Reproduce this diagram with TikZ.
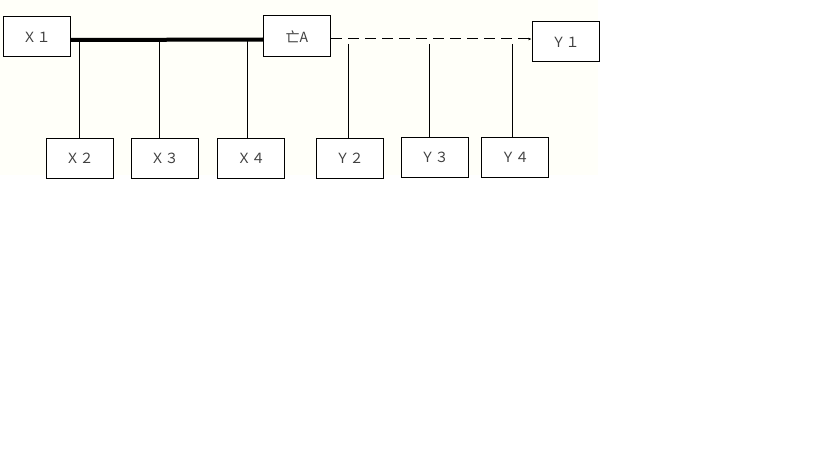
\documentclass[tikz,border=0pt]{standalone}
\usepackage{fontspec}
\newfontfamily\cjk{Noto Sans CJK SC}
\usetikzlibrary{arrows.meta}
\definecolor{paper}{RGB}{255,255,249}
\tikzset{
  box/.style={draw, line width=1pt, fill=white, minimum width=67pt, minimum height=40pt,
    inner sep=0pt, font=\cjk\fontsize{14}{16}\selectfont, text=black!75},
  bus/.style={line width=4pt},
  drop/.style={line width=1pt},
}
\begin{document}
\begin{tikzpicture}[x=1pt,y=-1pt]
\useasboundingbox (0,0) rectangle (819,460);
\fill[paper] (0,0) rectangle (598,175);

  % top row
  \node[box] (X1) at (36.5,37) {Ｘ１};
  \node[box, minimum height=41pt] (A) at (297,36.5) {亡A};
  \node[box] (Y1) at (565.5,42) {Ｙ１};

  % bottom row
  \node[box] (X2) at (79.5,158) {Ｘ２};
  \node[box] (X3) at (164.5,158.5) {Ｘ３};
  \node[box] (X4) at (251,158.5) {Ｘ４};
  \node[box] (Y2) at (349.5,158.5) {Ｙ２};
  \node[box] (Y3) at (434.5,157.5) {Ｙ３};
  \node[box] (Y4) at (515,157.5) {Ｙ４};

  \draw[bus] ([yshift=-3pt]X1.east) -- ([yshift=-3pt]A.west);
  \draw[drop, dash pattern=on 11pt off 6pt, -{Latex[length=3pt,width=3pt]}]
    ([yshift=-2.5pt]A.east) -- ([yshift=-2.5pt]A.east -| Y1.west);

  % drops
  \coordinate (x2) at (79.7,40);
  \coordinate (x3) at (159.5,40);
  \coordinate (x4) at (247.3,40);
  \coordinate (y2) at (348.4,44);
  \coordinate (y3) at (429.2,44);
  \coordinate (y4) at (512.2,44);
  \foreach \a/\b in {x2/X2,x3/X3,x4/X4,y2/Y2,y3/Y3,y4/Y4}
    \draw[drop] (\a) -- (\a |- \b.north);
\end{tikzpicture}
\end{document}
